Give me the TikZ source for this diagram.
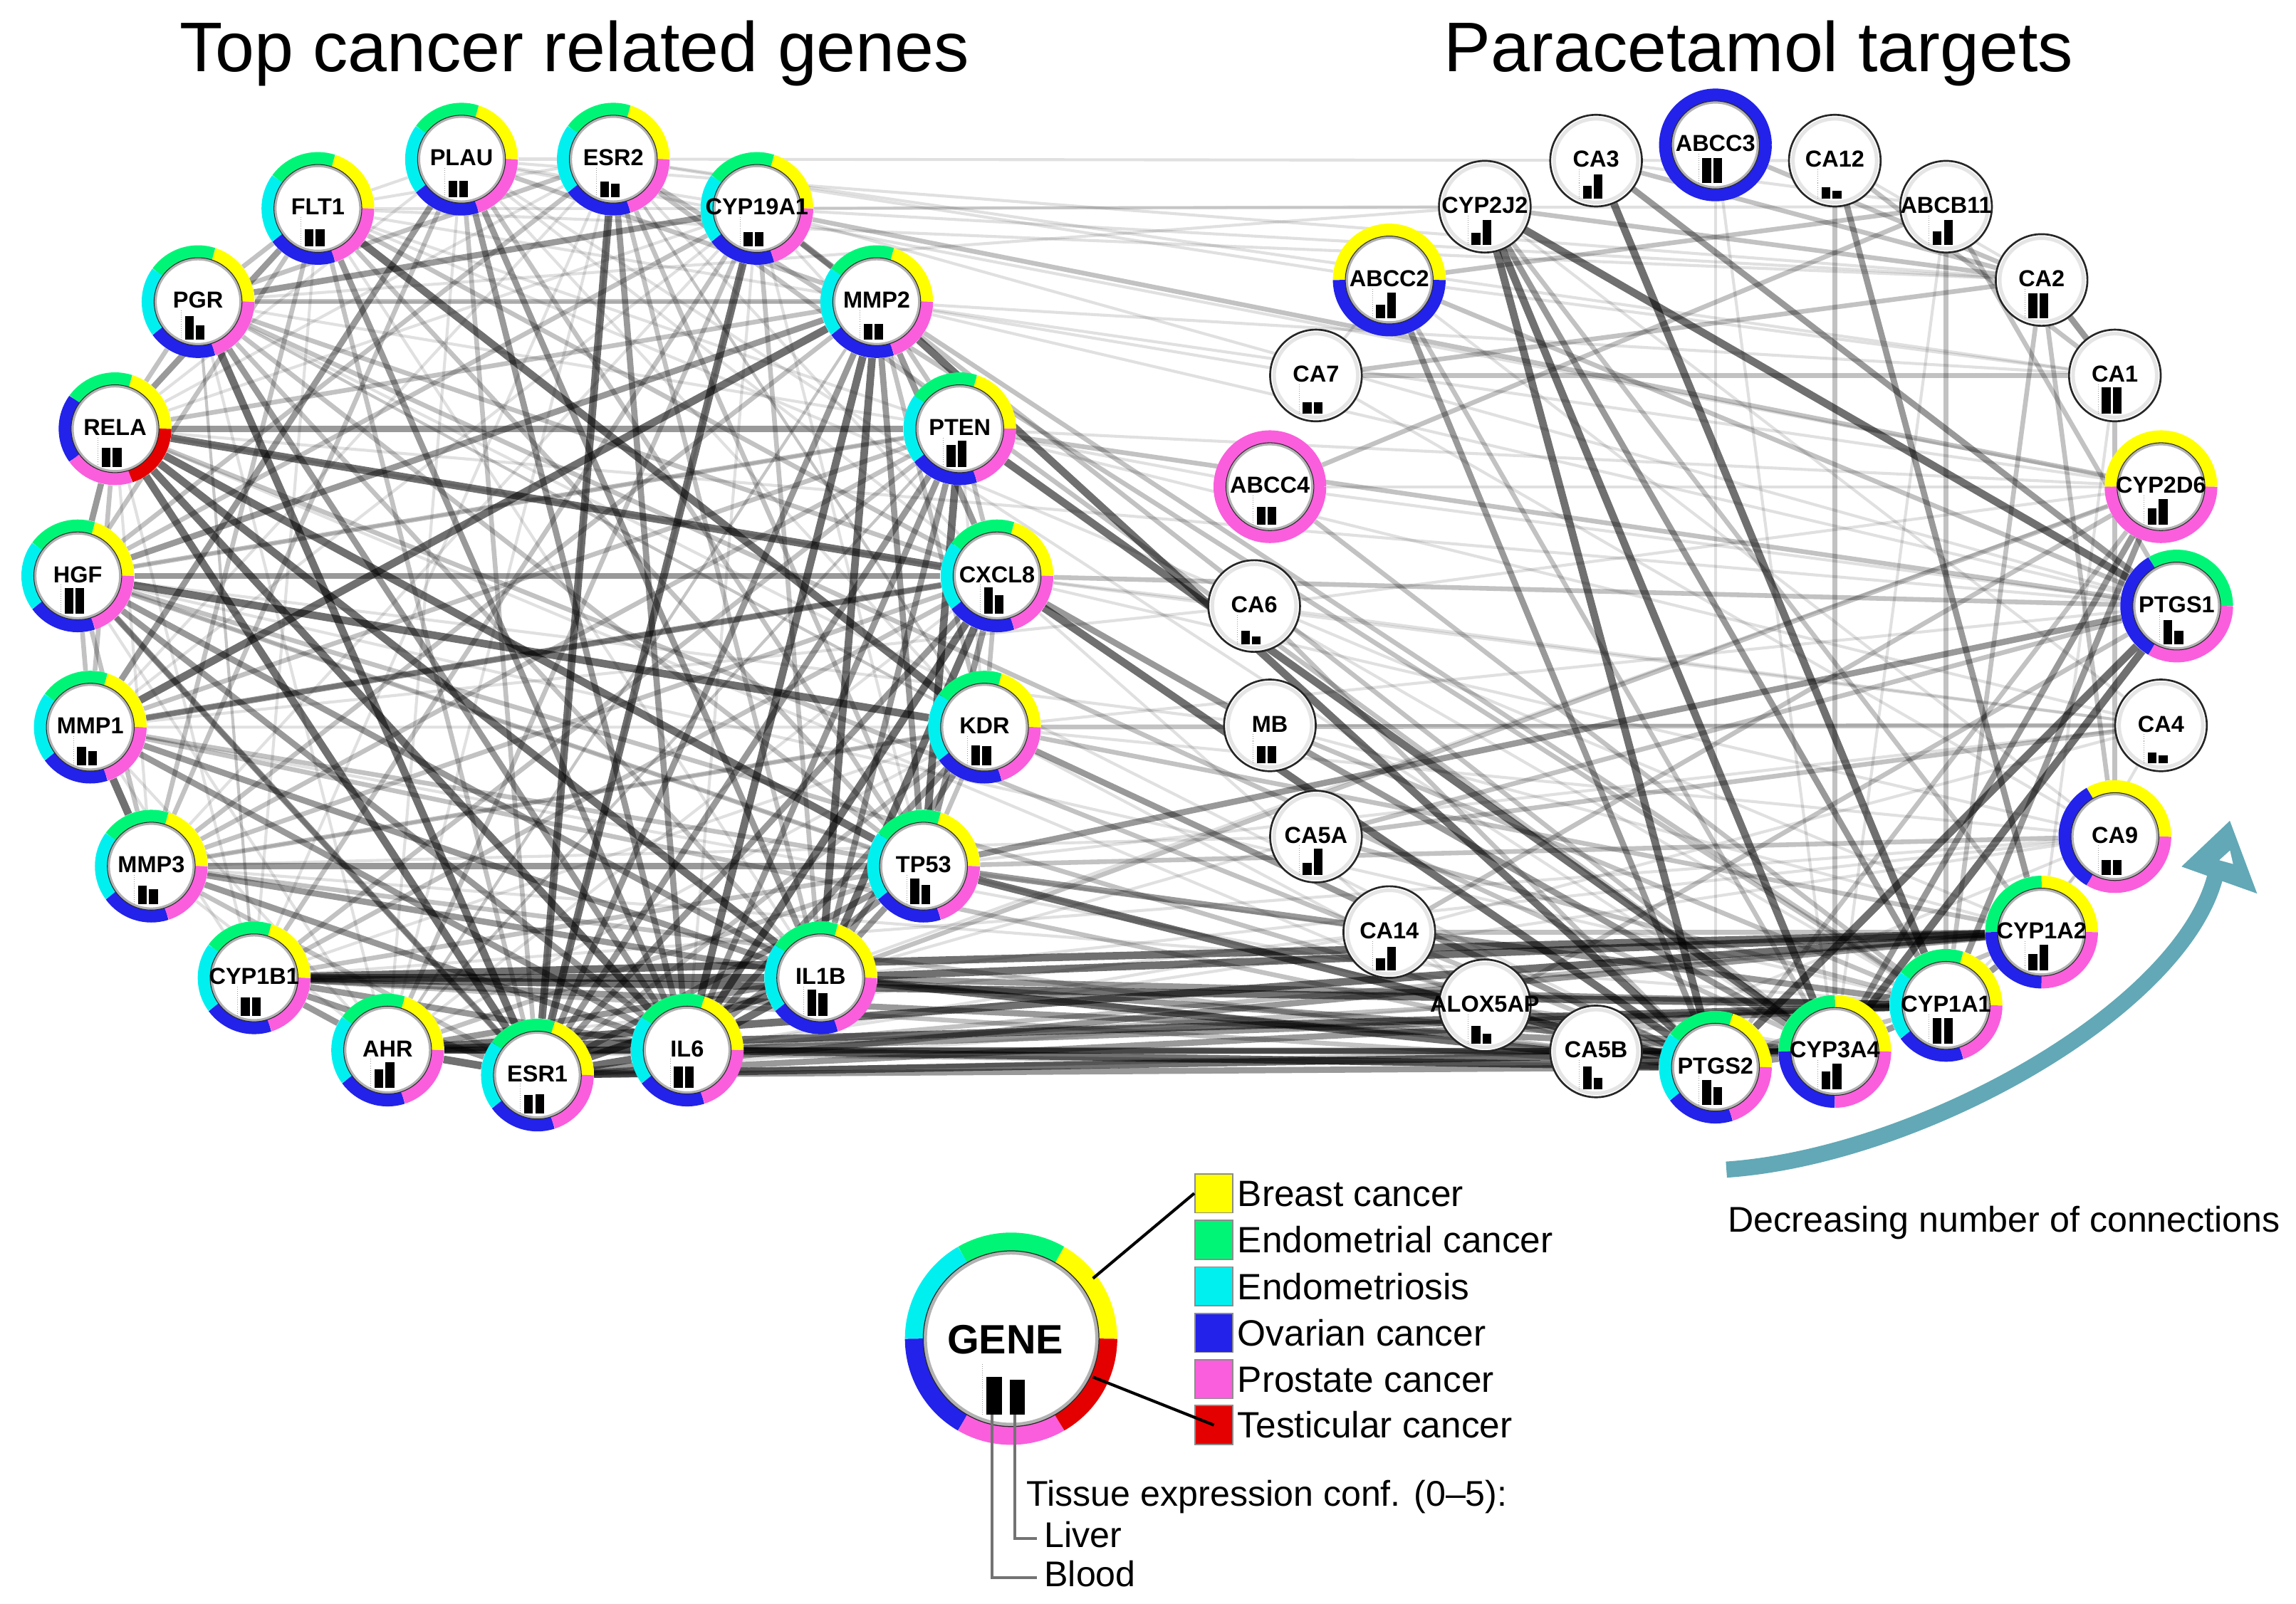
\documentclass[tikz,border=0pt]{standalone}
\usepackage{fontspec}
\setmainfont{Liberation Sans}
\usetikzlibrary{calc}
\pgfdeclarelayer{bg}
\pgfsetlayers{bg,main}
\definecolor{cY}{RGB}{255,255,0}
\definecolor{cG}{RGB}{0,245,118}
\definecolor{cC}{RGB}{0,240,240}
\definecolor{cB}{RGB}{34,34,234}
\definecolor{cP}{RGB}{250,94,220}
\definecolor{cR}{RGB}{228,0,0}
\definecolor{arrowc}{RGB}{98,168,182}
\tikzset{
  ringn/.style={circle, minimum size=77pt, inner sep=0pt},
  plainn/.style={circle, minimum size=62.6pt, inner sep=0pt, draw=black!85, line width=1.3pt, fill=white},
  lab/.style={font=\bfseries\fontsize{15.8}{15.8}\selectfont, inner sep=0pt},
  e1/.style={line width=2pt, black, opacity=0.12},
  e2/.style={line width=3.2pt, black, opacity=0.24},
  e3/.style={line width=4.2pt, black, opacity=0.4},
  e4/.style={line width=5.2pt, black, opacity=0.56},
  lt/.style={font=\fontsize{25}{25}\selectfont, inner sep=0pt, anchor=base west},
  lt2/.style={font=\fontsize{24.4}{24.4}\selectfont, inner sep=0pt, anchor=base west},
  ttl/.style={font=\fontsize{48}{48}\selectfont, inner sep=0pt, anchor=base},
  sq/.style={minimum width=26pt, minimum height=26.6pt, inner sep=0pt, draw=black!45, line width=0.8pt},
  leader/.style={black!55, line width=2pt},
}
\newcommand{\Lat}[1]{\pgfmathsetmacro\px{367+315*cos(90+(#1)*360/19)}\pgfmathsetmacro\py{419.4+315*sin(90+(#1)*360/19)}}
\newcommand{\Rat}[1]{\pgfmathsetmacro\px{1171.5+315*cos(90+(#1)*15)}\pgfmathsetmacro\py{414+315*sin(90+(#1)*15)}}
\newcommand{\gbars}[2]{%
  \fill[black] (\px-9,\py+26) rectangle (\px-3,\py+26-#1);
  \fill[black] (\px-1.5,\py+26) rectangle (\px+4.5,\py+26-#2);
  \draw[black!40, densely dotted, line width=0.5pt] (\px-11.5,\py+26) -- (\px-11.5,\py+6);
}
\newcommand{\rgene}[5]{%
  \node[ringn] (#1) at (\px,\py) {};
  \foreach \c [count=\i from 0] in {#3}{%
    \pgfmathsetmacro\aA{-360*\i/#2}%
    \pgfmathsetmacro\aB{-360*(\i+1)/#2}%
    \draw[line width=8.5pt, color=\c] ({\px+34.25*cos(\aA)},{\py+34.25*sin(\aA)}) arc[start angle=\aA, end angle=\aB, radius=34.25];
  }%
  \draw[black!30, line width=1.8pt, fill=white] (\px,\py) circle[radius=29.1];
  \draw[black!85, line width=0.5pt] (\px,\py) circle[radius=30];
  \gbars{#4}{#5}%
  \node[lab] at (\px,\py-1) {#1};
}
\newcommand{\pgene}[3]{%
  \node[plainn] (#1) at (\px,\py) {};
  \draw[black!10, line width=2.5pt] (\px,\py) circle[radius=28.6];
  \gbars{#2}{#3}%
  \node[lab] at (\px,\py-1) {#1};
}
\begin{document}
\begin{tikzpicture}[x=1pt,y=1pt,yscale=-1]
\useasboundingbox (0,0) rectangle (1568,1095.3);
% titles
\node[ttl] (t1) at (392.5,49) {Top cancer related genes};
\node[ttl] (t2) at (1201,49) {Paracetamol targets};
% left cluster
\Lat{0}\rgene{ESR1}{5}{cY,cG,cC,cB,cP}{12.5}{13}
\Lat{1}\rgene{AHR}{5}{cY,cG,cC,cB,cP}{12.7}{17.6}
\Lat{2}\rgene{CYP1B1}{5}{cY,cG,cC,cB,cP}{12.4}{12.4}
\Lat{3}\rgene{MMP3}{5}{cY,cG,cC,cB,cP}{12.5}{10}
\Lat{4}\rgene{MMP1}{5}{cY,cG,cC,cB,cP}{12.5}{9.5}
\Lat{5}\rgene{HGF}{5}{cY,cG,cC,cB,cP}{17.5}{17.5}
\Lat{6}\rgene{RELA}{5}{cY,cG,cB,cP,cR}{13}{13}
\Lat{7}\rgene{PGR}{5}{cY,cG,cC,cB,cP}{16}{10}
\Lat{8}\rgene{FLT1}{5}{cY,cG,cC,cB,cP}{12}{12}
\Lat{9}\rgene{PLAU}{5}{cY,cG,cC,cB,cP}{11}{11}
\Lat{10}\rgene{ESR2}{5}{cY,cG,cC,cB,cP}{10.5}{9}
\Lat{11}\rgene{CYP19A1}{5}{cY,cG,cC,cB,cP}{10}{10}
\Lat{12}\rgene{MMP2}{5}{cY,cG,cC,cB,cP}{11}{11}
\Lat{13}\rgene{PTEN}{5}{cY,cG,cC,cB,cP}{15}{18}
\Lat{14}\rgene{CXCL8}{5}{cY,cG,cC,cB,cP}{18.3}{13}
\Lat{15}\rgene{KDR}{5}{cY,cG,cC,cB,cP}{13.5}{13}
\Lat{16}\rgene{TP53}{5}{cY,cG,cC,cB,cP}{17.3}{13.3}
\Lat{17}\rgene{IL1B}{5}{cY,cG,cC,cB,cP}{18}{15.3}
\Lat{18}\rgene{IL6}{5}{cY,cG,cC,cB,cP}{15}{15}
% right cluster
\Rat{0}\rgene{PTGS2}{5}{cY,cG,cC,cB,cP}{17.4}{12.4}
\Rat{1}\pgene{CA5B}{15.7}{7.7}
\Rat{2}\pgene{ALOX5AP}{12}{6.8}
\Rat{3}\pgene{CA14}{8}{15.7}
\Rat{4}\pgene{CA5A}{8}{18}
\Rat{5}\pgene{MB}{12}{12}
\Rat{6}\pgene{CA6}{9}{5.4}
\Rat{7}\rgene{ABCC4}{1}{cP}{12}{12}
\Rat{8}\pgene{CA7}{7.6}{7.6}
\Rat{9}\rgene{ABCC2}{2}{cY,cB}{9.3}{17.4}
\Rat{10}\pgene{CYP2J2}{8}{17}
\Rat{11}\pgene{CA3}{9}{16.7}
\Rat{12}\rgene{ABCC3}{1}{cB}{17}{17}
\Rat{13}\pgene{CA12}{8}{5.4}
\Rat{14}\pgene{ABCB11}{9}{17}
\Rat{15}\pgene{CA2}{17}{17}
\Rat{16}\pgene{CA1}{17.8}{17.8}
\Rat{17}\rgene{CYP2D6}{2}{cY,cP}{11}{17.4}
\Rat{18}\rgene{PTGS1}{3}{cG,cB,cP}{16.6}{9}
\Rat{19}\pgene{CA4}{7.7}{5.4}
\Rat{20}\rgene{CA9}{3}{cY,cB,cP}{10}{10}
\Rat{21}\rgene{CYP1A2}{4}{cY,cG,cB,cP}{11}{17.4}
\Rat{22}\rgene{CYP1A1}{5}{cY,cG,cC,cB,cP}{17.4}{17.4}
\Rat{23}\rgene{CYP3A4}{4}{cY,cG,cB,cP}{12.4}{17.8}
% edges
\begin{pgfonlayer}{bg}
\foreach \a/\b in {PLAU/KDR, PLAU/CXCL8, FLT1/MMP2, FLT1/PTEN, PGR/MMP2, PGR/PTEN, PGR/KDR, ESR2/KDR, ESR2/MMP1, CYP19A1/MMP1, CYP19A1/PTEN, RELA/CYP19A1, RELA/ESR2, RELA/PLAU, HGF/PTEN, MMP3/KDR, MMP3/CYP19A1, CYP1B1/PGR, AHR/ESR2, AHR/PTEN, AHR/CXCL8, AHR/MMP2, MMP1/KDR, PTEN/KDR, FLT1/PLAU, KDR/PGR, KDR/ESR2, ESR2/CXCL8, CYP19A1/CYP2J2, ESR2/ABCC2, CYP19A1/ABCB11, PLAU/CA2, MMP2/CA7, MMP2/CYP2D6, PTEN/CA4, CXCL8/CA9, KDR/CA9, TP53/CA14, IL1B/CA5A, FLT1/CA2, PGR/CYP2J2, ESR2/CA1, CYP19A1/PTGS1, RELA/PTGS1, HGF/CYP1A1, MMP1/CYP3A4, MMP3/CYP1A1, CXCL8/CA6, PTEN/ABCC4, TP53/ALOX5AP, IL6/CA14, ESR1/ALOX5AP, MMP2/PTGS1, CA12/CA2, ABCB11/CYP3A4, CA6/CA4, ABCC4/CYP2D6, ABCC4/PTGS1, ABCC2/CA1, MB/CYP1A2, ABCC3/CYP3A4, ABCC3/PTGS2, CA7/ABCC2, CA7/CA9, CA5B/CA9, CA6/CYP1A1, MB/CA4, CA14/CA4, CA3/ABCB11, CYP2J2/CA4, ABCC2/CA9, CA1/CYP1A2, CA4/CYP1A2, CA9/CYP1A1, CYP2D6/CA6,
  PLAU/ESR2, PLAU/CYP19A1, FLT1/CYP19A1, FLT1/ESR2, PGR/CYP1B1, PGR/AHR, HGF/AHR, MMP1/AHR, MMP3/AHR, CYP1B1/MMP1, RELA/MMP3, RELA/CYP1B1, FLT1/CYP1B1, PLAU/AHR, ESR2/CYP1B1, CYP19A1/TP53, MMP2/AHR, PTEN/AHR, KDR/AHR, KDR/CYP1B1, TP53/HGF, CXCL8/RELA, IL1B/FLT1, IL6/CYP19A1, ESR1/ESR2, ESR1/CYP19A1,
  CYP19A1/CA2, ESR2/CA12, PLAU/CYP2D6, MMP2/CA1, PTEN/CYP2D6, CXCL8/CA4, KDR/PTGS1, TP53/CA4, IL1B/CA9, IL6/CA9, ESR1/CYP2D6, CYP1B1/CA9, AHR/CA14, MMP3/CA5A, MMP1/CA6, HGF/MB, RELA/CA5B, PGR/PTGS2, FLT1/CYP1A2, PLAU/CYP3A4, KDR/CA5B, CXCL8/ALOX5AP}
  {\draw[e1] (\a) -- (\b);}
\foreach \a/\b in {ESR1/PLAU, ESR1/FLT1, ESR1/KDR, ESR1/MMP3, ESR1/HGF, MMP1/HGF, MMP1/RELA, HGF/MMP3, HGF/TP53, MMP1/CXCL8, MMP3/CXCL8, MMP3/MMP2, CYP1B1/PTEN, CYP1B1/TP53, AHR/TP53, IL1B/ESR2, IL1B/PGR, IL1B/CYP19A1, PLAU/TP53, PLAU/MMP3, PLAU/MMP2, ESR2/PGR, ESR2/HGF, ESR2/TP53, CYP19A1/HGF, CYP19A1/CYP1B1, CYP19A1/AHR, MMP2/PTEN, MMP2/RELA, MMP2/PGR, MMP2/KDR, PTEN/CXCL8, PTEN/MMP1, PTEN/MMP3, PTEN/HGF, CXCL8/KDR, CXCL8/PGR, CXCL8/FLT1, CXCL8/CYP1B1, KDR/TP53, KDR/MMP3, TP53/PGR, TP53/FLT1, PGR/FLT1, PGR/RELA, FLT1/HGF, FLT1/MMP3, MMP1/TP53,
  IL6/CA5B, ESR1/CA5B, IL1B/CA5B, IL6/ALOX5AP, MMP3/PTGS2, MMP1/PTGS2, HGF/PTGS2, PGR/CYP3A4, ESR2/CYP3A4, CYP19A1/CYP3A4, CYP19A1/CYP2D6, KDR/CA4, CXCL8/PTGS1, IL1B/CYP2D6, RELA/PTGS2, MMP2/CYP1A1, PTEN/PTGS1, TP53/CA9, KDR/CYP1A2, IL6/CYP1A2, CYP1B1/PTGS2, AHR/PTGS2, ESR2/CYP1A1,
  ABCC2/ABCB11, CA7/CA2, CA7/CA1, ABCC2/CYP3A4, CA3/CA2, ABCC3/CA2, CA12/CA1, ABCB11/CYP1A1, CA2/CYP1A1, CA2/CA9, CYP2D6/PTGS2, CYP2D6/CA14, PTGS1/CA5A, CA4/CA5A, ABCC4/CYP1A1, ABCC2/PTGS1, CYP2J2/CA2, CYP2J2/CYP1A2, CA5A/CYP1A1, CA14/CYP1A2, ALOX5AP/PTGS2, ALOX5AP/PTGS1, ALOX5AP/CYP3A4, CA6/PTGS2, CA12/CYP3A4, ABCB11/PTGS1, ABCC4/ABCB11, MB/CYP1A1, CA1/CA9, CYP1A2/PTGS2, CYP1A1/PTGS2, CA5B/CYP3A4}
  {\draw[e2] (\a) -- (\b);}
\foreach \a/\b in {RELA/HGF, HGF/IL6, PGR/IL6, FLT1/IL6, PLAU/IL1B, PLAU/IL6, PLAU/MMP1, ESR2/IL6, CYP19A1/PGR, CYP19A1/MMP2, MMP2/TP53, MMP2/CXCL8, MMP2/ESR1, MMP2/HGF, PTEN/RELA, PTEN/IL6, PTEN/ESR1, PTEN/IL1B, CXCL8/HGF, CXCL8/MMP1, CXCL8/ESR1, CXCL8/TP53, KDR/IL6, KDR/IL1B, TP53/ESR1, TP53/IL6, TP53/MMP3, TP53/IL1B, IL1B/MMP3, IL1B/MMP1, IL1B/HGF, IL1B/AHR, IL6/MMP3, IL6/MMP1, IL6/CYP1B1, ESR1/CYP1B1, AHR/CYP1B1, RELA/FLT1, HGF/ESR1,
  KDR/PTGS2, TP53/CYP1A1, IL1B/CYP3A4, IL6/CYP1A1, IL6/CYP3A4, ESR1/CYP1A1, ESR1/CYP1A2, ESR1/PTGS2, AHR/CYP3A4, CYP1B1/CYP3A4, TP53/PTGS1, CXCL8/CYP3A4, IL1B/CYP1A1,
  CYP3A4/CYP1A1, CYP1A1/CYP1A2, ABCC2/PTGS2, CA12/CYP1A2, CA2/CA1, CYP2D6/CYP1A1, CYP2D6/CYP3A4, CA3/PTGS1, PTGS2/CYP3A4, CYP2J2/CYP1A1}
  {\draw[e3] (\a) -- (\b);}
\foreach \a/\b in {RELA/CXCL8, RELA/IL1B, RELA/IL6, RELA/ESR1, RELA/TP53, HGF/KDR, PGR/ESR1, FLT1/KDR, ESR2/ESR1, CYP19A1/ESR1, MMP2/IL6, MMP2/IL1B, MMP2/MMP1, PTEN/TP53, CXCL8/IL1B, CXCL8/IL6, IL1B/IL6, IL1B/ESR1, IL1B/CYP1B1, IL6/ESR1, IL6/AHR, ESR1/AHR, MMP1/MMP3,
  MMP2/PTGS2, PTEN/CYP3A4, CXCL8/PTGS2, TP53/PTGS2, IL1B/PTGS2, IL1B/CYP1A2, IL6/PTGS2, ESR1/CYP3A4, AHR/CYP1A1, CYP1B1/CYP1A1, CYP1B1/CYP1A2, AHR/CYP1A2,
  CYP2J2/CYP3A4, CYP2J2/PTGS2, CYP2J2/PTGS1, CA3/CYP1A1, PTGS1/PTGS2, PTGS1/CYP3A4}
  {\draw[e4] (\a) -- (\b);}
\end{pgfonlayer}
% legend
\node[ringn, minimum size=145pt] (GENE) at (690.5,914.5) {};
\foreach \c [count=\i from 0] in {cY,cG,cC,cB,cP,cR}{%
  \pgfmathsetmacro\aA{-60*\i}\pgfmathsetmacro\aB{-60*(\i+1)}%
  \draw[line width=12.5pt, color=\c] ({690.5+66.25*cos(\aA)},{914.5+66.25*sin(\aA)}) arc[start angle=\aA, end angle=\aB, radius=66.25];
}
\draw[black!30, line width=2.5pt, fill=white] (690.5,914.5) circle[radius=58.7];
\draw[black!85, line width=0.6pt] (690.5,914.5) circle[radius=60];
\node[font=\bfseries\fontsize{28}{28}\selectfont, inner sep=0pt] (genelab) at (686.6,915) {GENE};
\draw[leader] (677.5,955) |- (708,1077.8);
\draw[leader] (693,955) |- (708,1051);
\fill[black] (673.8,966.6) rectangle (684.4,940.4);
\fill[black] (689.4,966.6) rectangle (699.9,942.4);
\draw[black!40, densely dotted, line width=0.5pt] (671,966.6) -- (671,931);
\node[sq, fill=cY] (sY) at (829,815.2) {};
\node[sq, fill=cG] (sG) at (829,847) {};
\node[sq, fill=cC] (sC) at (829,878.8) {};
\node[sq, fill=cB] (sB) at (829,910.5) {};
\node[sq, fill=cP] (sP) at (829,942.2) {};
\node[sq, fill=cR] (sR) at (829,973.5) {};
\node[lt] at (845,824.1) {Breast cancer};
\node[lt] at (845,855.9) {Endometrial cancer};
\node[lt] at (845,887.7) {Endometriosis};
\node[lt] at (845,919.4) {Ovarian cancer};
\node[lt] at (845,951.1) {Prostate cancer};
\node[lt] at (845,982.4) {Testicular cancer};
\coordinate (gy) at (746.4,873.3);
\coordinate (gr) at (746.4,940.7);
\draw[black, line width=2pt] (gy) -- (sY.west);
\draw[black, line width=2pt] (gr) -- (sR.center);
\node[lt2] at (701,1029) {Tissue expression conf. (0--5):};
\node[lt2] (liver) at (713,1057) {Liver};
\node[lt2] (blood) at (713,1083.6) {Blood};
% arrow
\coordinate (arrS) at (1179,799);
\coordinate (arrE) at (1513,598);
\draw[line width=11pt, arrowc] (arrS) .. controls (1310,790) and (1490,690) .. (arrE);
\fill[arrowc] (1522.8,560.7) -- (1489.8,592) -- (1541.4,610.4) -- cycle;
\fill[white] (1522.9,581) -- (1515.6,587.6) -- (1525,590.2) -- cycle;
\node[lt2] at (1180,841.4) {Decreasing number of connections};
\end{tikzpicture}
\end{document}
